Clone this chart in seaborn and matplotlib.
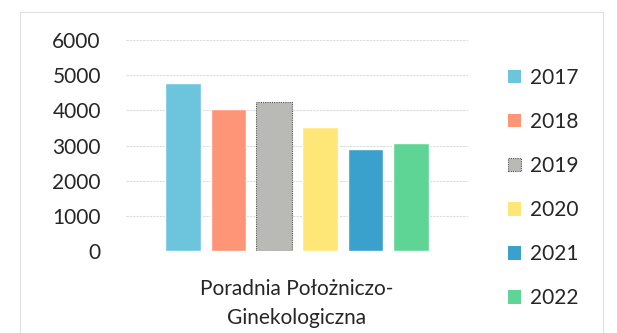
import matplotlib
matplotlib.use("Agg")
import matplotlib.pyplot as plt
import matplotlib.patches as mpatches
import pandas as pd
import seaborn as sns

category = ["Poradnia Położniczo-\nGinekologiczna"]
years = ["2017", "2018", "2019", "2020", "2021", "2022"]
visits = [4780, 4030, 4240, 3530, 2900, 3070]
colors = ["#6CC5DD", "#FF9577", "#B9BAB5", "#FFE777", "#3AA0CC", "#5FD595"]

df = pd.DataFrame({"poradnia": category * len(years), "rok": years, "liczba": visits})

sns.set_style("white")
plt.rcParams["font.family"] = ["Lato", "DejaVu Sans"]

fig = plt.figure(figsize=(6.17, 3.33), dpi=100)
ax = fig.add_axes([0.204, 0.246, 0.5545, 0.634])

sns.barplot(data=df, x="poradnia", y="liczba", hue="rok", hue_order=years,
            palette=colors, gap=0.22, width=0.8, saturation=1, ax=ax, legend=False)

# dotted outline on the 2019 bar
for patch, yr in zip(ax.patches, years):
    if yr == "2019":
        patch.set_edgecolor("#555555")
        patch.set_linestyle((0, (1, 1)))
        patch.set_linewidth(0.8)

ax.set_ylim(0, 6000)
ax.set_yticks(range(0, 6001, 1000))
ax.yaxis.grid(True, color="#dcdcdc", linewidth=0.8, linestyle=(0, (2, 1)))
ax.set_axisbelow(True)
for s in ax.spines.values():
    s.set_visible(False)
ax.set_xlabel("")
ax.set_ylabel("")
ax.tick_params(axis="y", length=0, pad=18, labelsize=15, labelcolor="#262626")
ax.tick_params(axis="x", length=0, pad=20, labelsize=15, labelcolor="#262626")
for t in ax.get_xticklabels():
    t.set_linespacing(1.55)

handles = []
for yr, c in zip(years, colors):
    if yr == "2019":
        h = mpatches.Patch(facecolor=c, edgecolor="#555555", linestyle=(0, (1, 1)), linewidth=0.8, label=yr)
    else:
        h = mpatches.Patch(facecolor=c, edgecolor="none", label=yr)
    handles.append(h)
fig.legend(handles=handles, loc="upper left", bbox_to_anchor=(0.823, 0.797),
           frameon=False, fontsize=15, handlelength=0.62, handleheight=0.62,
           handletextpad=0.45, labelspacing=1.16, labelcolor="#262626",
           borderaxespad=0, borderpad=0)

# light frame around the chart area
fig.patches.append(mpatches.Rectangle((0.033, -0.05), 0.945, 1.014, transform=fig.transFigure,
                                      fill=False, edgecolor="#e0e0e0", linewidth=0.8))

fig.savefig("out.png", dpi=100, facecolor="white")
